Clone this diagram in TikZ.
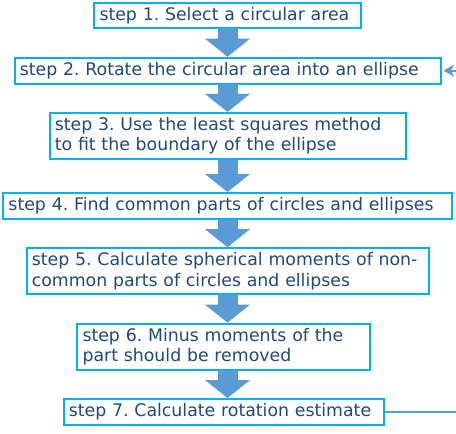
\documentclass[tikz,border=0pt]{standalone}
\usepackage{fontspec}
\setmainfont{DejaVu Sans}
\usepackage{tikz}
\usetikzlibrary{arrows.meta,positioning,calc}
\definecolor{boxcyan}{RGB}{0,176,240}
\definecolor{textblue}{RGB}{31,73,125}
\definecolor{flowblue}{RGB}{91,155,213}
\frenchspacing

\begin{document}
\begin{tikzpicture}[
    x=0.75pt, y=0.75pt,
    node distance=20.5pt,
    stepbox/.style={draw=boxcyan, line width=1.5pt, text=textblue, align=left, inner xsep=4pt, inner ysep=3.4pt, font=\fontsize{13}{15.2}\selectfont},
    flow/.style={-{Triangle[length=13.5pt,width=33pt]}, line width=15pt, flowblue},
    back/.style={-{Stealth[length=8pt,width=9pt,inset=2.5pt]}, line width=1.5pt, flowblue, shorten >=1.5pt}
]
\clip (0,0) rectangle (456,-434);
\node[stepbox, text width=192pt] (s1) at (227.5,-15.5) {step 1. Select a circular area};
\node[stepbox, text width=311.5pt, below=of s1] (s2) {step 2. Rotate the circular area into an ellipse};
\node[stepbox, text width=259pt, below=of s2] (s3) {step 3. Use the least squares method\\to fit the boundary of the ellipse};
\node[stepbox, text width=328.5pt, below=24pt of s3] (s4) {step 4. Find common parts of circles and ellipses};
\node[stepbox, text width=293.5pt, below=of s4] (s5) {step 5. Calculate spherical moments of non-\\common parts of circles and ellipses};
\node[stepbox, text width=211.5pt, below=of s5, xshift=-3pt] (s6) {step 6. Minus moments of the\\part should be removed};
\node[stepbox, text width=232pt, below=of s6] (s7) {step 7. Calculate rotation estimate};
\coordinate (r) at (475,0);

\draw[flow] (s1.south) -- (s2.north);
\draw[flow] (s2.south) -- (s3.north);
\draw[flow] (s3.south) -- (s4.north);
\draw[flow] (s4.south) -- (s5.north);
\draw[flow] (s5.south -| s1) -- (s6.north -| s1);
\draw[flow] (s6.south -| s1) -- (s7.north -| s1);
\draw[back] (s7.east) -- (s7.east -| r) |- (s2.east);
\end{tikzpicture}
\end{document}
